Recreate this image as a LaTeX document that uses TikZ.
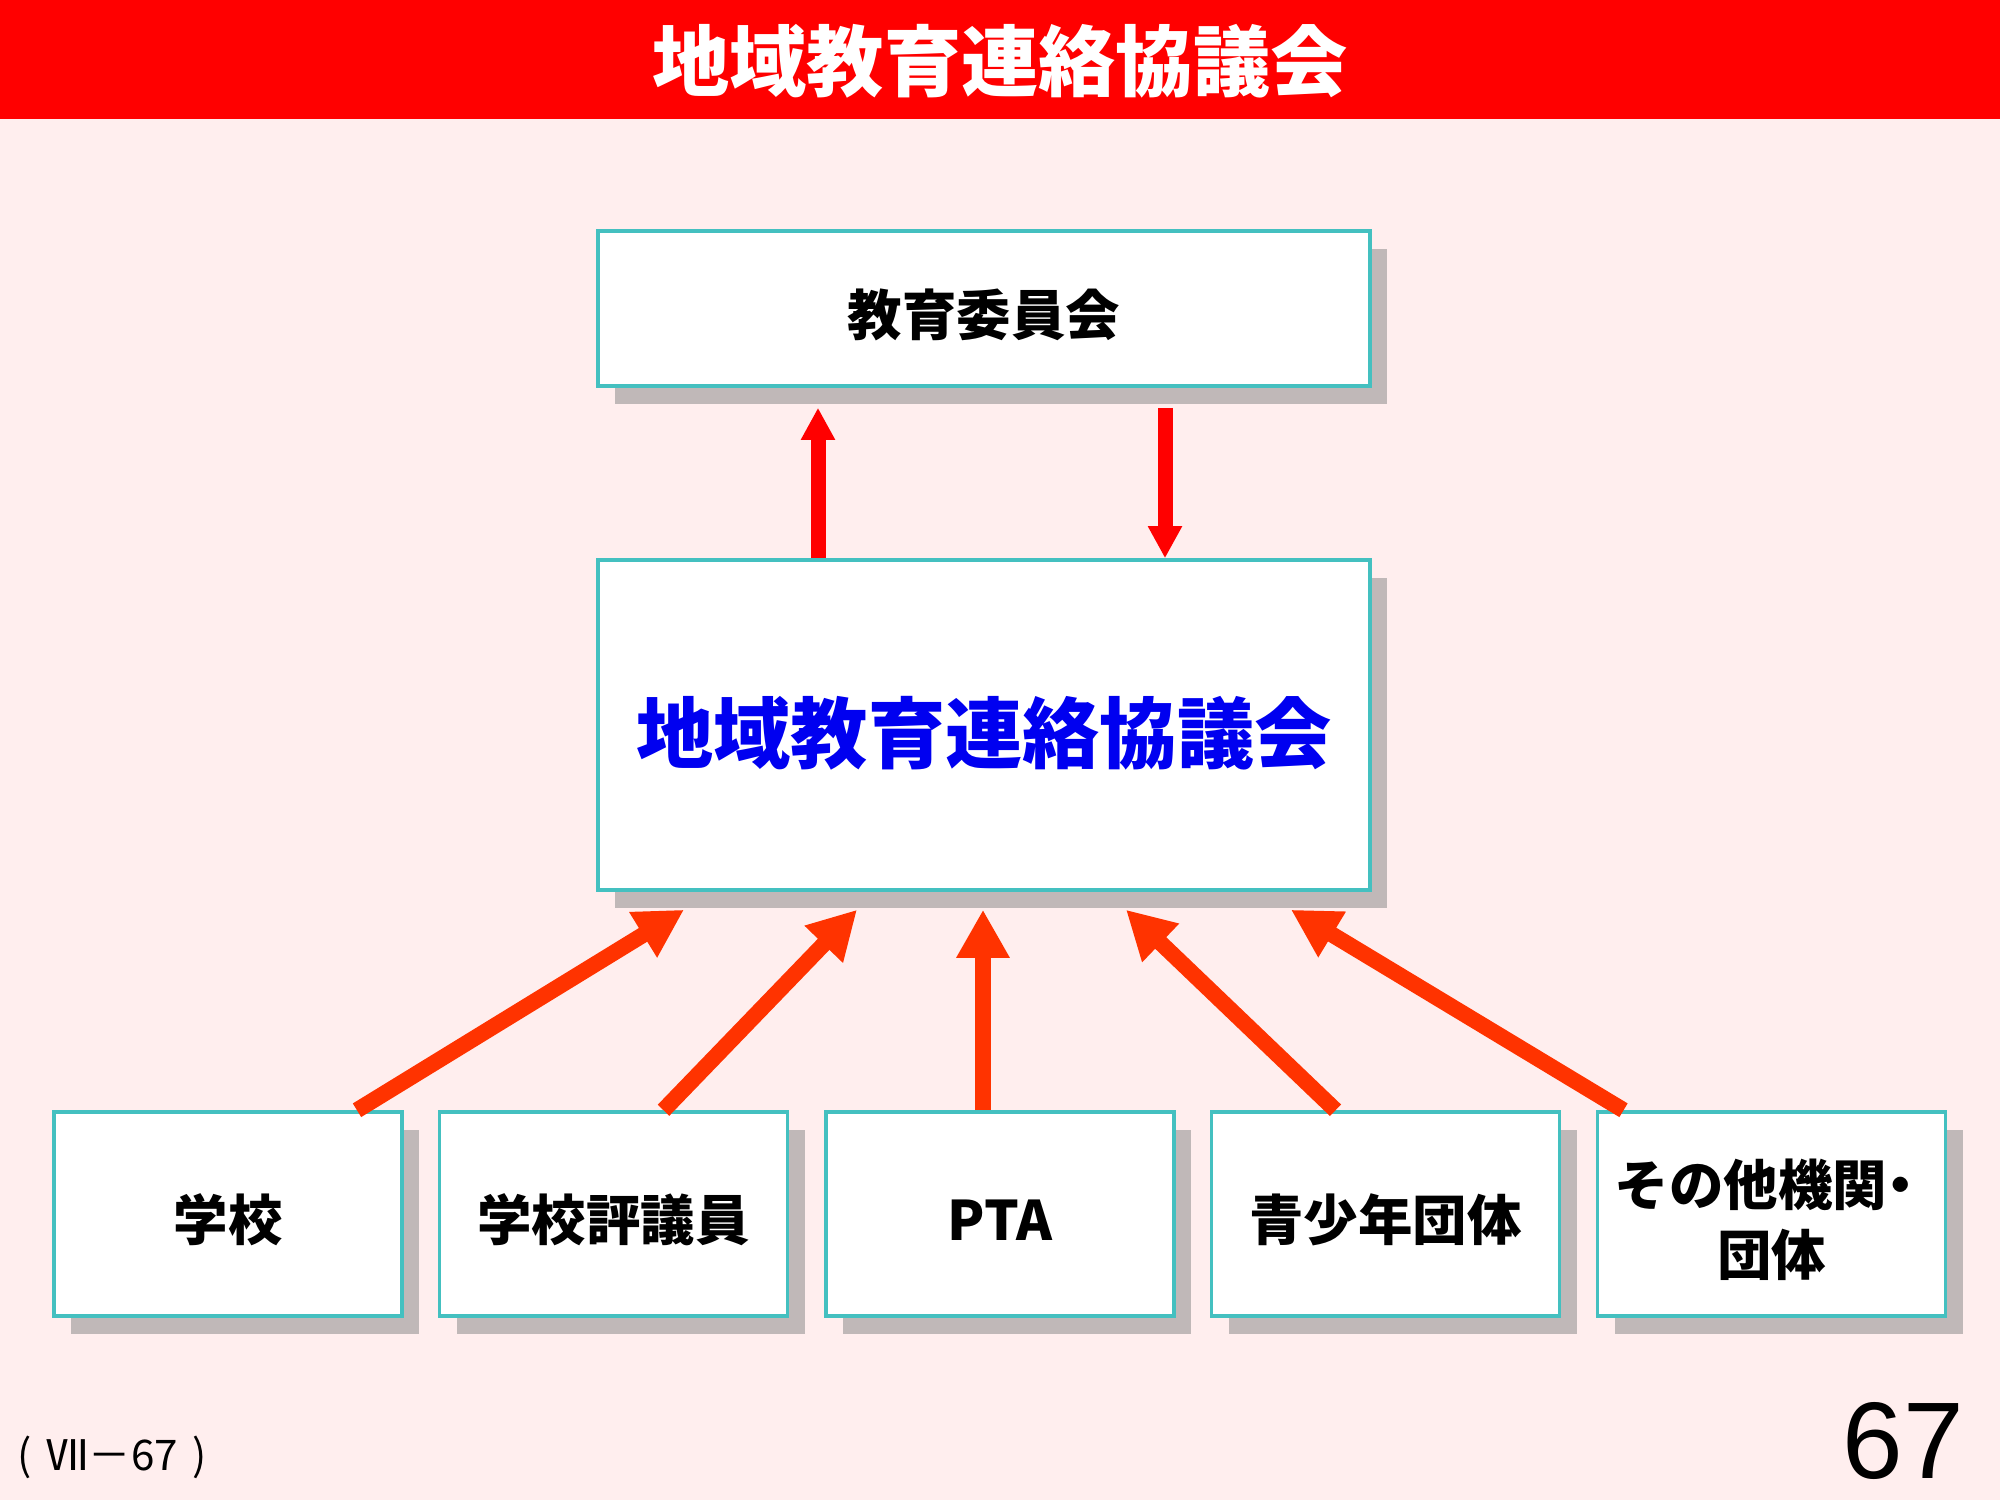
\documentclass[tikz,border=0pt]{standalone}
\usepackage{fontspec}
\setmainfont{Noto Sans CJK JP}
\newfontfamily\numfont{Liberation Sans}
\usetikzlibrary{arrows.meta, shadows}
\definecolor{barRed}{HTML}{FF0000}
\definecolor{paperPink}{HTML}{FFEEEE}
\definecolor{edgeTeal}{HTML}{44C0C0}
\definecolor{shadeGrey}{HTML}{C0B8B8}
\definecolor{linkRed}{HTML}{FF3300}
\definecolor{titleBlue}{HTML}{0000F0}

\begin{document}
\begin{tikzpicture}[
   card/.style={rectangle, draw=edgeTeal, line width=1pt, fill=white,
                drop shadow={shadow xshift=1.7mm, shadow yshift=-1.8mm,
                             fill=shadeGrey, opacity=1},
                font=\fontsize{15.5}{20}\selectfont\bfseries, align=center,
                inner sep=0pt, text height=17pt, text depth=1.9pt},
   unit/.style={card, minimum width=3.48cm, minimum height=2.04cm},
   feed/.style={-{Triangle[length=4.8mm, width=5mm]}, line width=1.6mm,
                linkRed},
   link/.style={-{Triangle[length=3.2mm, width=3.2mm]}, line width=1.5mm,
                barRed}]

\fill[paperPink] (0,0) rectangle (20,15);
\useasboundingbox (0,0) rectangle (20,15);

\fill[barRed] (0,13.81) rectangle (20,15);
\node[text=white, font=\fontsize{22}{26}\selectfont\bfseries] (title)
     at (10,14.39) {地域教育連絡協議会};

\node[card, minimum width=7.72cm, minimum height=1.55cm] (board)
     at (9.84,11.915) {教育委員会};
\node[card, minimum width=7.72cm, minimum height=3.30cm, text=titleBlue,
      font=\fontsize{22}{26}\selectfont\bfseries,
      text height=24pt, text depth=2.6pt] (council)
     at (9.84,7.75) {地域教育連絡協議会};

\draw[link] ([xshift=-1.66cm]council.north)
         -- ([xshift=-1.66cm, yshift=-2mm]board.south);
\draw[link] ([xshift=1.81cm, yshift=-2mm]board.south)
         -- ([xshift=1.81cm]council.north);

\node[unit] (school)  at (2.28,2.86)   {学校};
\node[unit] (trustee) at (6.135,2.86)  {学校評議員};
\node[unit] (pta)     at (10.0,2.86)   {PTA};
\node[unit] (youth)   at (13.855,2.86) {青少年団体};
\node[unit, text height=37pt] (others) at (17.715,2.86)
     {その他機関\hspace{-0.25em}・\\団体};

\draw[feed] ([xshift=1.29cm]school.north)
         -- ([xshift=-3.00cm, yshift=-1.8mm]council.south);
\draw[feed] ([xshift=0.50cm]trustee.north)
         -- ([xshift=-1.27cm, yshift=-1.8mm]council.south);
\draw[feed] ([xshift=-0.17cm]pta.north)
         -- ([xshift=-0.01cm, yshift=-1.8mm]council.south);
\draw[feed] ([xshift=-0.50cm]youth.north)
         -- ([xshift=1.42cm, yshift=-1.8mm]council.south);
\draw[feed] ([xshift=-1.48cm]others.north)
         -- ([xshift=3.07cm, yshift=-1.8mm]council.south);

\node[anchor=west, inner sep=0pt, font=\fontsize{12}{14}\selectfont] (ref)
     at (0.17,0.43) {(\hspace{0.35em}Ⅶ－67\hspace{0.35em})};
\node[font=\numfont\fontsize{31}{36}\selectfont] (page)
     at (19.03,0.59) {67};
\end{tikzpicture}
\end{document}
